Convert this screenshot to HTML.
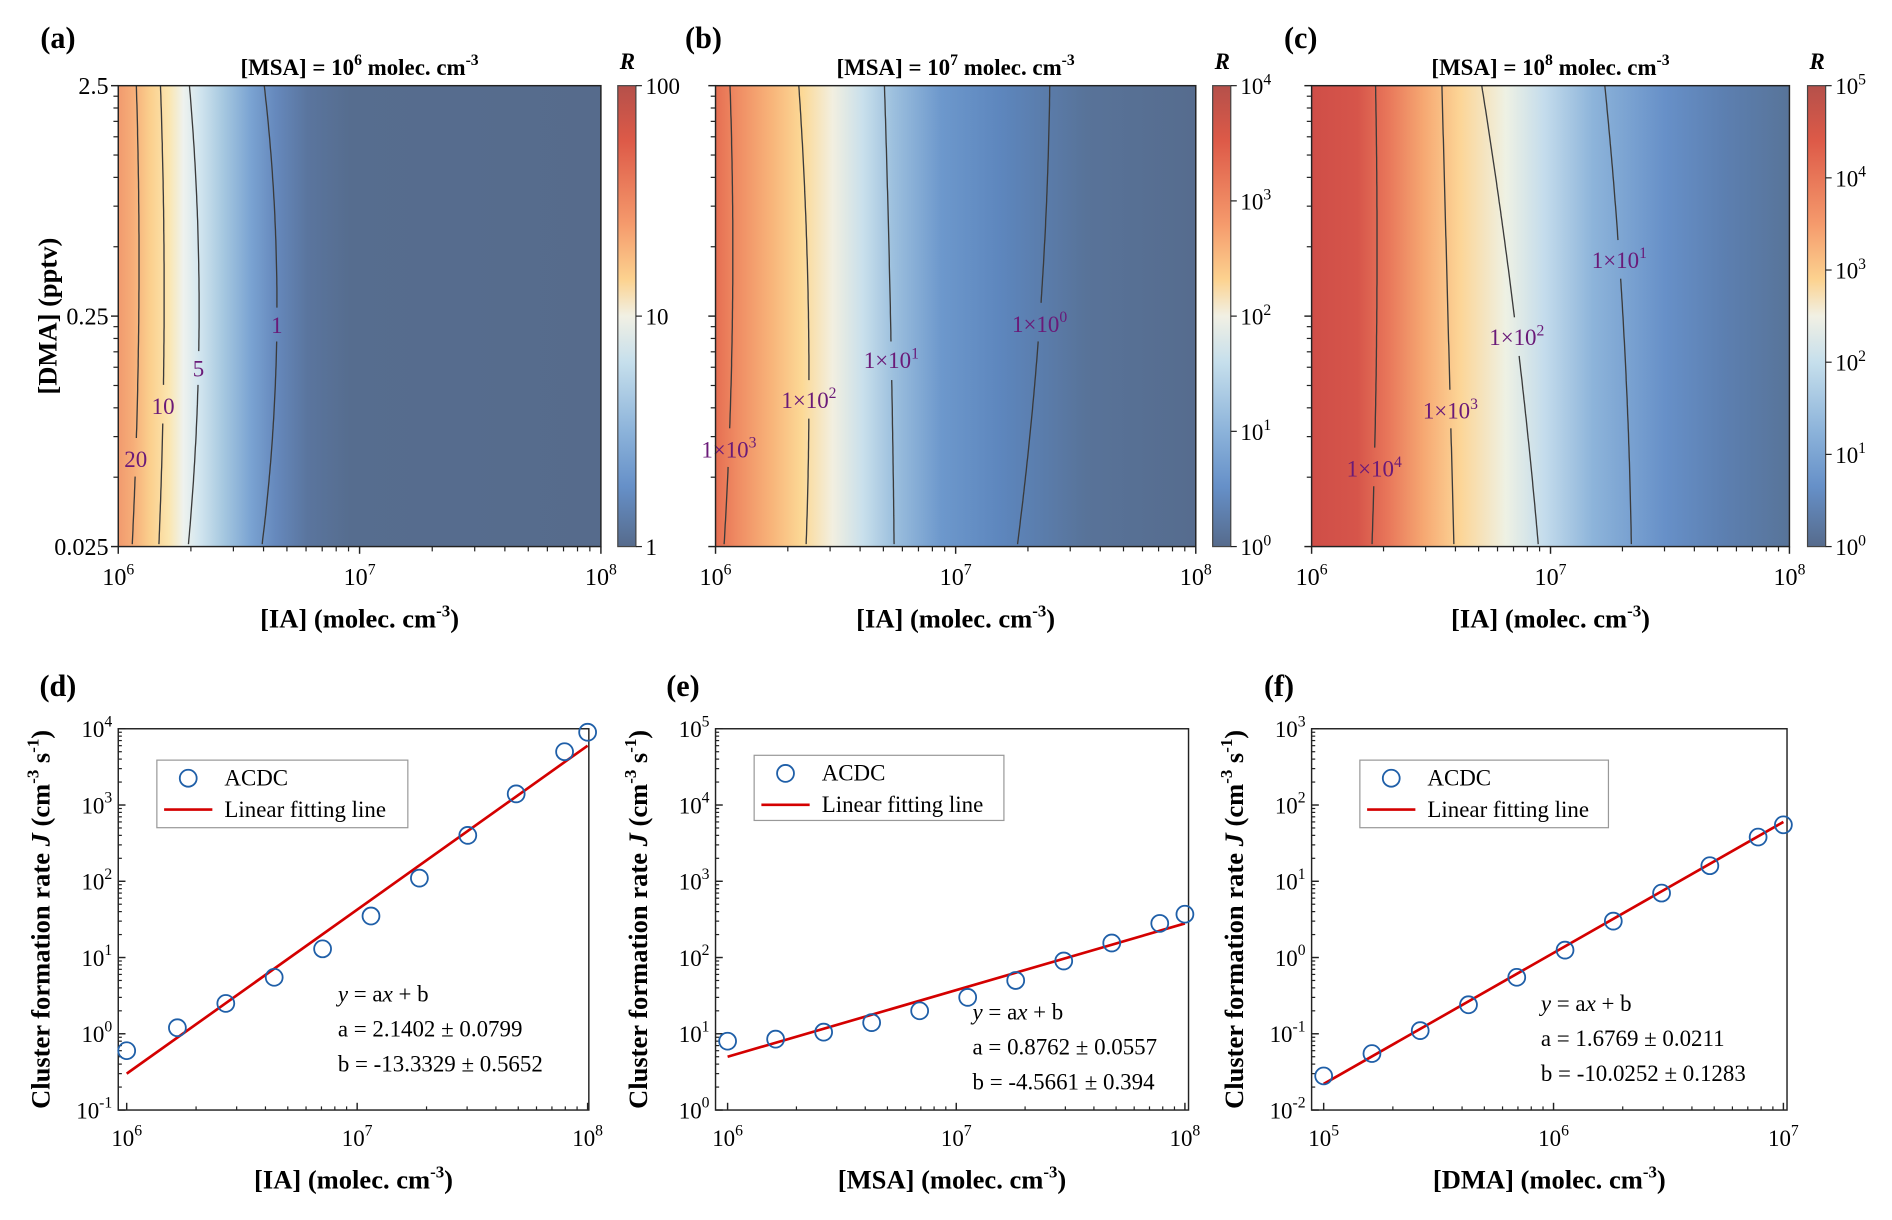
<!DOCTYPE html>
<html><head><meta charset="utf-8"><style>
html,body{margin:0;padding:0;background:#fff}
svg, svg text{font-family:"Liberation Serif","DejaVu Serif",serif}
</style></head><body>
<svg id="fig" width="1892" height="1215" viewBox="0 0 1568 1007" preserveAspectRatio="none" xmlns="http://www.w3.org/2000/svg" font-family="Liberation Serif, serif">
<defs>
<linearGradient id="cbar" x1="0" y1="0" x2="0" y2="1">
<stop offset="0" stop-color="#b5504a"/><stop offset="0.12" stop-color="#dd5a48"/><stop offset="0.3" stop-color="#f59a6c"/><stop offset="0.42" stop-color="#fcd28f"/><stop offset="0.5" stop-color="#f1f0e4"/><stop offset="0.6" stop-color="#c6dfec"/><stop offset="0.75" stop-color="#8cb3da"/><stop offset="0.87" stop-color="#6690c8"/><stop offset="1" stop-color="#566b8c"/>
</linearGradient>
</defs>
<g id="root"></g>
</svg>
<script>
// ---- data ----
const topXTicks = ['6','7','8'];
const topYTicks = ['2.5','0.25','0.025'];
const panelTitles = ['6','7','8'];
const aLevels = ['20','10','5','1'];
const aContourTop = [113,133,157,219];
const aContourMid = [115,136,165,229.5];
const aContourBot = [109.5,131.6,156,217];
const aLabelY = [380,336,305,269];
const bLevels = ['3','2','1','0'];
const bContourTop = [605,662,733,870];
const bContourMid = [607,670,738,862];
const bContourBot = [600,668,741,843];
const bLabelY = [372,331,298,268];
const cLevels = ['4','3','2','1'];
const cContourTop = [1140,1195,1228,1330];
const cContourMid = [1141,1200,1255,1345];
const cContourBot = [1137,1205,1275,1352];
const cLabelY = [388,340,279,215];

const dX = [6,6.22,6.43,6.64,6.85,7.06,7.27,7.48,7.69,7.9,8];
const dY = [0.6,1.2,2.5,5.5,13,35,110,400,1400,5000,9000];
const dFit = [0.3,6000];
const eX = [6,6.21,6.42,6.63,6.84,7.05,7.26,7.47,7.68,7.89,8];
const eY = [8,8.5,10.5,14,20,30,50,90,155,280,370];
const eFit = [5,280];
const fX = [5,5.21,5.42,5.63,5.84,6.05,6.26,6.47,6.68,6.89,7];
const fY = [0.028,0.055,0.11,0.24,0.55,1.25,3,7,16,38,55];
const fFit = [0.022,60];

const NS='http://www.w3.org/2000/svg';
const root=document.getElementById('root');
function el(tag,attrs,parent){const e=document.createElementNS(NS,tag);for(const k in attrs)e.setAttribute(k,attrs[k]);(parent||root).appendChild(e);return e;}
function txt(x,y,s,size,opts,parent){const t=el('text',Object.assign({x:x,y:y,'font-size':size,'text-anchor':'middle','font-family':'Liberation Serif, serif'},opts||{}),parent);t.innerHTML=s;return t;}

// ---- top heatmap panels ----
const tops=[
 {x0:98,x1:498,cb:512,label:'(a)',lx:30,stops:[[98,'#f19a6e'],[110,'#f6ad78'],[125,'#fbd08e'],[140,'#fbe6b0'],[152,'#eef2ee'],[165,'#d3e6ef'],[185,'#a6c8e0'],[208,'#7aa3d2'],[228,'#6689bd'],[255,'#5a759e'],[290,'#566d8f'],[498,'#566b8c']],
  lev:aLevels,ct:aContourTop,cm:aContourMid,cbt:aContourBot,ly:aLabelY,cbTicks:['100','10','1'],exp:false},
 {x0:593,x1:991,cb:1005,label:'(b)',lx:565,stops:[[593,'#e56e52'],[610,'#ef8a62'],[640,'#f8b57a'],[665,'#fcd996'],[690,'#f2efe0'],[715,'#c9e0ec'],[740,'#9dc0de'],[780,'#6d98cc'],[830,'#5d86bd'],[900,'#587399'],[991,'#566c8e']],
  lev:bLevels,ct:bContourTop,cm:bContourMid,cbt:bContourBot,ly:bLabelY,cbTicks:['4','3','2','1','0'],exp:true},
 {x0:1087,x1:1483,cb:1498,label:'(c)',lx:1060,stops:[[1087,'#cf4e48'],[1125,'#d6554a'],[1150,'#e8765a'],[1180,'#f6a872'],[1210,'#fcd596'],[1248,'#eef1e4'],[1280,'#c4dcec'],[1320,'#8db4da'],[1380,'#6790c8'],[1430,'#5c7fb0'],[1483,'#587499']],
  lev:cLevels,ct:cContourTop,cm:cContourMid,cbt:cContourBot,ly:cLabelY,cbTicks:['5','4','3','2','1','0'],exp:true}
];
const Y0=71,Y1=453;
tops.forEach((p,i)=>{
  const g=el('g',{});
  
  
  const gid='hg'+i;
  const lg=el('linearGradient',{id:gid,x1:p.x0,x2:p.x1,y1:0,y2:0,gradientUnits:'userSpaceOnUse'},document.querySelector('defs'));
  p.stops.forEach(s=>el('stop',{offset:(s[0]-p.x0)/(p.x1-p.x0),'stop-color':s[1]},lg));
  const r=el('rect',{x:p.x0,y:Y0,width:p.x1-p.x0,height:Y1-Y0,fill:'url(#'+gid+')'},g);
  
  
  p.lev.forEach((lv,j)=>{
    const ly=p.ly[j];
    const xm=(y)=>{const t=(y-Y0)/(Y1-Y0);return (1-t)*(1-t)*p.ct[j]+2*t*(1-t)*(2*p.cm[j]-(p.ct[j]+p.cbt[j])/2)+t*t*p.cbt[j];};
    let d1='',d2='';
    for(let y=Y0;y<=Y1;y+=4){const s=xm(y).toFixed(1)+','+y; if(y<ly-13) d1+=(d1?'L':'M')+s; else if(y>ly+13) d2+=(d2?'L':'M')+s;}
    const c=el('path',{d:d1+d2,fill:'none',stroke:'#3a3a3a','stroke-width':1.1},g);
    
    
    const lab=p.exp? '1×10<tspan font-size="13" dy="-8">'+lv+'</tspan>' : lv;
    const t=txt(xm(ly),ly+7,lab,19,{fill:'#6a1a78'},g);
    
    
  });
  el('rect',{x:p.x0,y:Y0,width:p.x1-p.x0,height:Y1-Y0,fill:'none',stroke:'#222','stroke-width':1.2},g);
  const lw=p.x1-p.x0;
  topXTicks.forEach((e,k)=>{
    const x=p.x0+k*lw/2;
    el('line',{x1:x,x2:x,y1:Y1,y2:Y1+6,stroke:'#222','stroke-width':1.2},g);
    const t=txt(x,Y1+32,'10<tspan font-size="13" dy="-9">'+e+'</tspan>',20,{},g);
    
    
  });
  for(let dec=0;dec<2;dec++)for(let m=2;m<10;m++){const x=p.x0+(dec+Math.log10(m))*lw/2;el('line',{x1:x,x2:x,y1:Y1,y2:Y1+4,stroke:'#222'},g);}
  const lh=Y1-Y0;
  topYTicks.forEach((v,k)=>{
    const y=Y0+k*lh/2;
    el('line',{x1:p.x0-6,x2:p.x0,y1:y,y2:y,stroke:'#222','stroke-width':1.2},g);
    if(i===0){const t=txt(p.x0-8,y+7,v,20,{'text-anchor':'end'},g);}
  });
  for(let dec=0;dec<2;dec++)for(let m=2;m<10;m++){const y=Y1-(dec+Math.log10(m))*lh/2;el('line',{x1:p.x0-4,x2:p.x0,y1:y,y2:y,stroke:'#222'},g);}
  const tt=txt((p.x0+p.x1)/2,62,'[MSA] = 10<tspan font-size="13" dy="-8">'+panelTitles[i]+'</tspan><tspan dy="8"> molec. cm</tspan><tspan font-size="13" dy="-8">-3</tspan>',19,{'font-weight':'bold'},g);
  
  
  const pl=txt(p.lx+18,40,p.label,25,{'font-weight':'bold'},g);
  
  
  const xl=txt((p.x0+p.x1)/2,520,'[IA] (molec. cm<tspan font-size="14" dy="-9">-3</tspan><tspan dy="9">)</tspan>',22,{'font-weight':'bold'},g);
  
  
  const cb=el('rect',{x:p.cb,y:Y0,width:15,height:lh,fill:'url(#cbar)',stroke:'#444','stroke-width':1},g);
  
  
  const rl=txt(p.cb+8,57,'R',19,{'font-weight':'bold','font-style':'italic'},g);
  
  
  const n=p.cbTicks.length-1;
  p.cbTicks.forEach((v,k)=>{
    const y=Y0+k*lh/n;
    el('line',{x1:p.cb+15,x2:p.cb+20,y1:y,y2:y,stroke:'#222'},g);
    const lab=p.exp?'10<tspan font-size="13" dy="-8">'+v+'</tspan>':v;
    const t=txt(p.cb+23,y+7,lab,19,{'text-anchor':'start'},g);
    
    
  });
});
const yt=txt(0,0,'[DMA] (pptv)',22,{'font-weight':'bold',transform:'translate(47,262) rotate(-90)'});



// ---- bottom scatter panels ----
const B0=604,B1=920;
const bots=[
 {x0:98,x1:488,xa:105,xb:487,lx0:6,lx1:8,ly0:-1,yTicks:['-1','0','1','2','3','4'],X:dX,Y:dY,F:dFit,label:'(d)',plx:30,xl:'[IA]',leg:[130,630,208,56],ann:[280,830]},
 {x0:593,x1:985,xa:603,xb:982,lx0:6,lx1:8,ly0:0,yTicks:['0','1','2','3','4','5'],X:eX,Y:eY,F:eFit,label:'(e)',plx:548,xl:'[MSA]',leg:[625,626,207,54],ann:[806,845]},
 {x0:1087,x1:1481,xa:1097,xb:1478,lx0:5,lx1:7,ly0:-2,yTicks:['-2','-1','0','1','2','3'],X:fX,Y:fY,F:fFit,label:'(f)',plx:1042,xl:'[DMA]',leg:[1127,630,206,56],ann:[1277,838]}
];
bots.forEach((p,i)=>{
  const g=el('g',{});
  
  
  const sx=v=>p.xa+(v-p.lx0)/(p.lx1-p.lx0)*(p.xb-p.xa);
  const dec=(B1-B0)/5;
  const sy=v=>B1-(Math.log10(v)-p.ly0)*dec;
  el('rect',{x:p.x0,y:B0,width:p.x1-p.x0,height:B1-B0,fill:'#fff',stroke:'#222','stroke-width':1.2},g);
  p.yTicks.forEach((e,k)=>{
    const y=B1-k*dec;
    el('line',{x1:p.x0,x2:p.x0+6,y1:y,y2:y,stroke:'#222','stroke-width':1.2},g);
    const t=txt(p.x0-5,y+7,'10<tspan font-size="13" dy="-9">'+e+'</tspan>',19,{'text-anchor':'end'},g);
    
    
    if(k<5)for(let m=2;m<10;m++){const yy=y-Math.log10(m)*dec;el('line',{x1:p.x0,x2:p.x0+3,y1:yy,y2:yy,stroke:'#222'},g);}
  });
  for(let k=0;k<=2;k++){
    const x=sx(p.lx0+k);
    el('line',{x1:x,x2:x,y1:B1,y2:B1-6,stroke:'#222','stroke-width':1.2},g);
    const t=txt(x,B1+30,'10<tspan font-size="13" dy="-9">'+(p.lx0+k)+'</tspan>',19,{},g);
    
    
    if(k<2)for(let m=2;m<10;m++){const xx=sx(p.lx0+k+Math.log10(m));el('line',{x1:xx,x2:xx,y1:B1,y2:B1-3,stroke:'#222'},g);}
  }
  const fl=el('line',{x1:sx(p.X[0]),y1:sy(p.F[0]),x2:sx(p.X[p.X.length-1]),y2:sy(p.F[1]),stroke:'#d40000','stroke-width':2.2},g);
  
  
  p.X.forEach((x,k)=>{
    const c=el('circle',{cx:sx(x),cy:sy(p.Y[k]),r:7,fill:'none',stroke:'#1f5fa8','stroke-width':1.5},g);
    
    
  });
  const [lx,ly,lw,lh]=p.leg;
  const lg=el('g',{},g);
  
  
  el('rect',{x:lx,y:ly,width:lw,height:lh,fill:'#fff',stroke:'#999'},lg);
  el('circle',{cx:lx+26,cy:ly+15,r:7,fill:'none',stroke:'#1f5fa8','stroke-width':1.5},lg);
  el('line',{x1:lx+6,x2:lx+46,y1:ly+41,y2:ly+41,stroke:'#d40000','stroke-width':2.2},lg);
  txt(lx+56,ly+21,'ACDC',19,{'text-anchor':'start'},lg);
  txt(lx+56,ly+47,'Linear fitting line',19,{'text-anchor':'start'},lg);
  const ann=[['<tspan font-style="italic">y</tspan> = a<tspan font-style="italic">x</tspan> + b'],['a = '+['2.1402 ± 0.0799','0.8762 ± 0.0557','1.6769 ± 0.0211'][i]],['b = '+['-13.3329 ± 0.5652','-4.5661 ± 0.394','-10.0252 ± 0.1283'][i]]];
  ann.forEach((a,k)=>{const t=txt(p.ann[0],p.ann[1]+k*29,a[0],19,{'text-anchor':'start'},g);});
  const pl=txt(p.plx+18,577,p.label,25,{'font-weight':'bold'},g);
  
  
  const xl=txt((p.x0+p.x1)/2,985,p.xl+' (molec. cm<tspan font-size="14" dy="-9">-3</tspan><tspan dy="9">)</tspan>',22,{'font-weight':'bold'},g);
  
  
  const yl=txt(0,0,'Cluster formation rate <tspan font-style="italic">J</tspan> (cm<tspan font-size="14" dy="-9">-3</tspan><tspan dy="9"> s</tspan><tspan font-size="14" dy="-9">-1</tspan><tspan dy="9">)</tspan>',22,{'font-weight':'bold',transform:'translate('+(p.x0-57)+',762) rotate(-90)'},g);
  
  
});
</script>
</body></html>
